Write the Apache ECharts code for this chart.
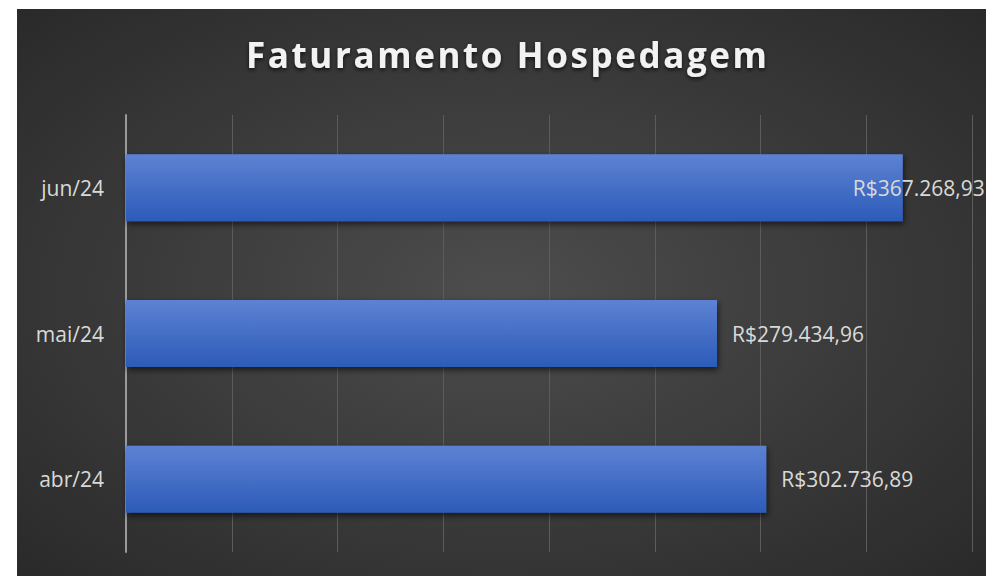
<!DOCTYPE html>
<html><head><meta charset="utf-8">
<script src="https://cdn.jsdelivr.net/npm/echarts@6/dist/echarts.min.js"></script>
<style>
html,body{margin:0;padding:0;background:#fff;width:986px;height:576px;overflow:hidden;}
#c{position:absolute;left:17px;top:9px;width:969px;height:567px;}
</style></head>
<body><div id="c"></div>
<script>
const titleText = 'Faturamento Hospedagem';
const categories = ['abr/24', 'mai/24', 'jun/24'];
const values = [302736.89, 279434.96, 367268.93];
const axisMin = 0, axisMax = 400000, axisInterval = 50000;

function fmt(v){
  const parts = v.toFixed(2).split('.');
  return 'R$' + parts[0].replace(/\B(?=(\d{3})+(?!\d))/g, '.') + ',' + parts[1];
}

const chart = echarts.init(document.getElementById('c'), null, {renderer: 'svg'});
const maxIdx = values.indexOf(Math.max(...values));
const data = values.map((v, i) => {
  const d = {value: v};
  if (i === maxIdx) d.label = {position: 'insideRight', offset: [97, 0]};
  return d;
});

function spaceTitle(){
  document.querySelectorAll('#c svg text').forEach(t => {
    if (t.textContent === titleText) {
      t.setAttribute('letter-spacing', '2.6px');
      t.style.letterSpacing = '2.6px';
    }
  });
}

chart.setOption({
  animation: false,
  backgroundColor: {
    type: 'radial', x: 0.5, y: 0.5, r: 1,
    colorStops: [{offset: 0, color: '#4d4d4d'}, {offset: 1, color: '#1b1b1b'}]
  },
  title: {
    text: titleText, left: 224, top: 23,
    textStyle: {
      color: '#f2f2f2', fontFamily: 'Open Sans', fontWeight: 'bold', fontSize: 35,
      textShadowColor: 'rgba(0,0,0,0.7)', textShadowBlur: 4, textShadowOffsetY: 2
    }
  },
  grid: {left: 109, right: 14, top: 106, bottom: 24},
  xAxis: {
    type: 'value', min: axisMin, max: axisMax, interval: axisInterval,
    axisLabel: {show: false}, axisLine: {show: false}, axisTick: {show: false},
    splitLine: {lineStyle: {color: '#5c5c5c', width: 1}}
  },
  yAxis: {
    type: 'category', data: categories,
    axisLine: {show: true, lineStyle: {color: '#9a9a9a', width: 2}},
    axisTick: {show: false},
    axisLabel: {color: '#d9d9d9', fontFamily: 'Open Sans', fontSize: 21, margin: 22}
  },
  series: [{
    type: 'bar', data: data, barCategoryGap: '54%',
    itemStyle: {
      color: {type: 'linear', x: 0, y: 0, x2: 0, y2: 1,
        colorStops: [{offset: 0, color: '#5d82d3'}, {offset: 1, color: '#2c5bb8'}]},
      shadowColor: 'rgba(0,0,0,0.6)', shadowBlur: 6, shadowOffsetY: 3, shadowOffsetX: 1
    },
    label: {
      show: true, position: 'right', distance: 15, color: '#d9d9d9',
      fontFamily: 'Open Sans', fontSize: 21, formatter: p => fmt(p.value)
    }
  }]
});
spaceTitle();
chart.on('finished', spaceTitle);
</script></body></html>
